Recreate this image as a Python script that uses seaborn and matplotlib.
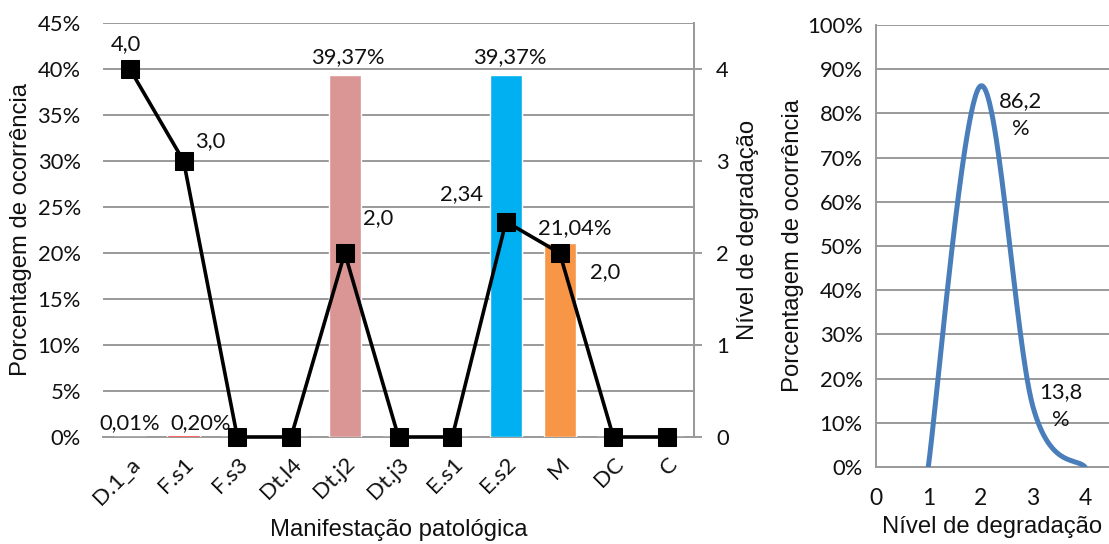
import numpy as np
import pandas as pd
import matplotlib
matplotlib.use("Agg")
import matplotlib.pyplot as plt
import seaborn as sns
from matplotlib.ticker import FixedLocator, FuncFormatter

# --- data -------------------------------------------------------------
categorias = ["D.1_a", "F.s1", "F.s3", "Dt.l4", "Dt.j2", "Dt.j3",
              "E.s1", "E.s2", "M", "DC", "C"]
porcentagem = [0.01, 0.20, 0.0, 0.0, 39.37, 0.0, 0.0, 39.37, 21.04, 0.0, 0.0]
nivel = [4.0, 3.0, 0.0, 0.0, 2.0, 0.0, 0.0, 2.34, 2.0, 0.0, 0.0]
cores = ["#4F81BD", "#FF0000", "#9BBB59", "#8064A2", "#D99694", "#4BACC6",
         "#C0504D", "#00B0F0", "#F79646", "#7F7F7F", "#1F497D"]

nivel_x = [1, 2, 3, 4]
ocorrencia = [0.0, 0.862, 0.138, 0.0]

# --- style ------------------------------------------------------------
sns.set_theme(style="white")
plt.rcParams["font.family"] = ["Liberation Sans", "DejaVu Sans"]
NUM = ["Lato", "DejaVu Sans"]
GRID = "#9A9A9A"
TXT = "#111111"
FS_NUM = 15.8
FS_LBL = 17.2

fig = plt.figure(figsize=(11.09, 5.44), dpi=100)

# --- left panel: bars + degradation line ------------------------------
ax = fig.add_axes([103 / 1109, 1 - 437 / 544, (694 - 103) / 1109, (437 - 23) / 544])
df = pd.DataFrame({"cat": categorias, "pct": porcentagem})
sns.barplot(data=df, x="cat", y="pct", hue="cat", palette=cores,
            legend=False, width=0.6, saturation=1, ax=ax, zorder=3)
ax.set_xlim(-0.5, len(categorias) - 0.5)
ax.set_ylim(0, 45)
ax.yaxis.set_major_locator(FixedLocator(np.arange(0, 46, 5)))
ax.yaxis.set_major_formatter(FuncFormatter(lambda v, p: f"{v:.0f}%"))
ax.grid(axis="y", color=GRID, lw=1.4, zorder=0)
ax.set_axisbelow(True)
for s in ["left", "top"]:
    ax.spines[s].set_visible(False)
ax.spines["bottom"].set_color(GRID)
ax.spines["bottom"].set_linewidth(1.4)
ax.spines["right"].set_color(GRID)
ax.spines["right"].set_linewidth(1.4)
ax.tick_params(axis="y", length=0, pad=16, labelsize=FS_NUM, labelcolor=TXT)
ax.set_xticks(range(len(categorias)))
ax.set_xticklabels(categorias, rotation=45, ha="right", rotation_mode="anchor",
                   fontsize=16.2, color=TXT)
ax.set_xticks(np.arange(-0.5, len(categorias), 1), minor=True)
ax.tick_params(axis="x", which="major", length=0, pad=12)
ax.tick_params(axis="x", which="minor", length=6, width=1.4, color=GRID,
               direction="out")
for t in ax.get_xticklabels() + ax.get_yticklabels():
    t.set_family(NUM)
ax.set_xlabel("Manifestação patológica", fontsize=FS_LBL, color=TXT, labelpad=8)
ax.set_ylabel("Porcentagem de ocorrência", fontsize=FS_LBL, color=TXT, labelpad=4)

# bar value labels
bar_off = {0: (0, 10), 1: (12, 9), 4: (2, 13), 7: (3, 13), 8: (11, 11)}
for i, off in bar_off.items():
    v = porcentagem[i]
    ax.annotate(f"{v:.2f}%".replace(".", ","), (i, v), xytext=off,
                textcoords="offset points", ha="center", va="center",
                fontsize=FS_NUM, family=NUM, color=TXT)

ax2 = ax.twinx()
sns.lineplot(x=np.arange(len(categorias)), y=nivel, ax=ax2, color="black",
             lw=2.6, marker="s", markersize=12.5, markeredgecolor="black",
             zorder=5, clip_on=False)
ax2.set_ylim(0, 4.5)
ax2.set_yticks([0, 1, 2, 3, 4])
ax2.set_yticklabels(["0", "1", "2", "3", "4"])
ax2.tick_params(axis="y", length=6, width=1.4, color=GRID, direction="out",
                pad=10, labelsize=FS_NUM, labelcolor=TXT)
for t in ax2.get_yticklabels():
    t.set_family(NUM)
for s in ["left", "top", "bottom"]:
    ax2.spines[s].set_visible(False)
ax2.spines["right"].set_color(GRID)
ax2.spines["right"].set_linewidth(1.4)
ax2.set_ylabel("Nível de degradação", fontsize=FS_LBL, color=TXT, labelpad=6)

line_off = {0: (-3, 18), 1: (19, 14), 4: (24, 25), 7: (-32, 20), 8: (33, -14)}
for i, off in line_off.items():
    v = nivel[i]
    txt = f"{v:.1f}" if abs(v * 10 - round(v * 10)) < 1e-9 else f"{v:.2f}"
    ax2.annotate(txt.replace(".", ","), (i, v), xytext=off,
                 textcoords="offset points", ha="center", va="center",
                 fontsize=FS_NUM, family=NUM, color=TXT)

# --- right panel: smoothed distribution -------------------------------
bx = fig.add_axes([876 / 1109, 1 - 467 / 544, (1109 - 876) / 1109, (467 - 25) / 544])


def smooth(xs, ys, n=60):
    """Piecewise cubic Bezier smoothing through the given points."""
    p = np.column_stack([xs, ys]).astype(float)
    ext = np.vstack([p[0], p, p[-1]])
    out = []
    for k in range(len(p) - 1):
        p0, p3 = p[k], p[k + 1]
        c1 = p0 + (ext[k + 2] - ext[k]) / 6
        c2 = p3 - (ext[k + 3] - ext[k + 1]) / 6
        t = np.linspace(0, 1, n)[:, None]
        out.append((1 - t) ** 3 * p0 + 3 * (1 - t) ** 2 * t * c1
                   + 3 * (1 - t) * t ** 2 * c2 + t ** 3 * p3)
    c = np.vstack(out)
    return c[:, 0], c[:, 1]


sx, sy = smooth(nivel_x, ocorrencia)
sns.lineplot(x=sx, y=sy, sort=False, ax=bx, color="#4A7EBB", lw=3.6,
             solid_capstyle="round", zorder=3)
bx.set_xlim(0, 233 / 52.25)
bx.set_ylim(0, 1.0)
bx.set_xticks([0, 1, 2, 3, 4])
bx.set_yticks(np.arange(0, 1.01, 0.1))
bx.yaxis.set_major_formatter(FuncFormatter(lambda v, p: f"{v * 100:.0f}%"))
bx.grid(axis="y", color=GRID, lw=1.4, zorder=0)
bx.set_axisbelow(True)
for s in ["right", "top"]:
    bx.spines[s].set_visible(False)
for s in ["left", "bottom"]:
    bx.spines[s].set_color(GRID)
    bx.spines[s].set_linewidth(1.4)
bx.tick_params(axis="both", length=6, width=1.4, color=GRID, direction="out",
               labelsize=FS_NUM, labelcolor=TXT)
bx.tick_params(axis="x", pad=9, labelsize=16.5)
for t in bx.get_xticklabels() + bx.get_yticklabels():
    t.set_family(NUM)
bx.set_xlabel("Nível de degradação", fontsize=FS_LBL, color=TXT, labelpad=5)
bx.set_ylabel("Porcentagem de ocorrência", fontsize=FS_LBL, color=TXT, labelpad=2)

peak_off = {1: (29, -21), 2: (20, 0)}
for i, off in peak_off.items():
    v = ocorrencia[i]
    bx.annotate(f"{v * 100:.1f}".replace(".", ",") + "\n%",
                (nivel_x[i], v), xytext=off, textcoords="offset points",
                ha="center", va="center", fontsize=FS_NUM, family=NUM,
                color=TXT, linespacing=1.5)

fig.savefig("out.png", dpi=100)
